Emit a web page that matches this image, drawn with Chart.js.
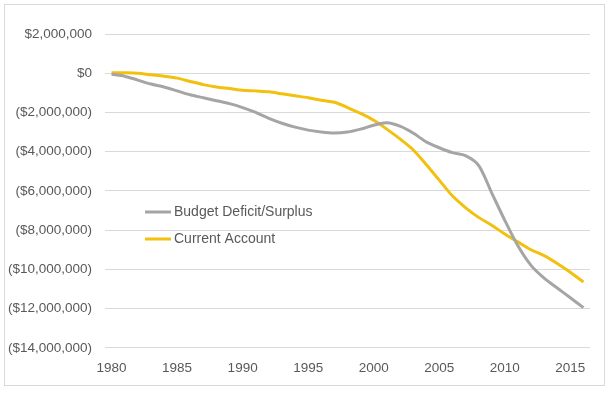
<!DOCTYPE html>
<html>
<head>
<meta charset="utf-8">
<script src="https://cdn.jsdelivr.net/npm/chart.js@4/dist/chart.umd.min.js"></script>
<style>
    body { margin: 0; background: #fff; }
    #frame { position: absolute; left: 4px; top: 4px; width: 599px; height: 380px; border: 1px solid #d9d9d9; }
    #myChart { position: absolute; left: 0; top: 0; }
</style>
</head>
<body>
<div id="frame"></div>
<canvas id="myChart" width="612" height="394"></canvas>
<script>
const years = [];
for (let y = 1980; y <= 2016; y++) years.push(String(y));

const budget = [
    -50000, -150000, -350000, -550000, -700000, -900000, -1100000, -1250000, -1400000, -1550000,
    -1750000, -2000000, -2300000, -2550000, -2750000, -2900000, -3000000, -3050000, -3000000, -2850000,
    -2650000, -2530000, -2700000, -3050000, -3500000, -3800000, -4050000, -4200000, -4700000, -6100000,
    -7500000, -8800000, -9800000, -10450000, -10950000, -11450000, -11950000
];

const currentAccount = [
    20000, 20000, 0, -80000, -150000, -250000, -420000, -580000, -700000, -780000,
    -870000, -900000, -950000, -1050000, -1150000, -1250000, -1380000, -1480000, -1750000, -2050000,
    -2400000, -2850000, -3350000, -3900000, -4650000, -5450000, -6250000, -6850000, -7350000, -7750000,
    -8200000, -8600000, -9000000, -9300000, -9700000, -10150000, -10650000
];

const yMin = -14000000;
const yMax = 2000000;
const yStep = 2000000;

const textColor = '#595959';

function money(v) {
    const s = '$' + Math.abs(v).toLocaleString('en-US');
    return v < 0 ? '(' + s + ')' : s;
}

// legend drawn inside the plot, like the excel one
const insideLegend = {
    id: 'insideLegend',
    afterDraw(chart) {
        const c = chart.ctx;
        const x = 145;
        let y = 212;
        c.save();
        c.font = '14px "Liberation Sans", Arial, sans-serif';
        c.textBaseline = 'middle';
        chart.data.datasets.forEach(ds => {
            c.strokeStyle = ds.borderColor;
            c.lineWidth = 3;
            c.beginPath();
            c.moveTo(x, y);
            c.lineTo(x + 26, y);
            c.stroke();
            c.fillStyle = textColor;
            c.fillText(ds.label, x + 29, y);
            y += 27;
        });
        c.restore();
    }
};

const ctx = document.getElementById('myChart').getContext('2d');
const myChart = new Chart(ctx, {
    type: 'line',
    data: {
        labels: years,
        datasets: [{
            label: 'Budget Deficit/Surplus',
            data: budget,
            borderColor: '#a5a5a5',
            borderWidth: 3,
            pointRadius: 0,
            tension: 0.3
        }, {
            label: 'Current Account',
            data: currentAccount,
            borderColor: '#f2c00f',
            borderWidth: 3,
            pointRadius: 0,
            tension: 0.3
        }]
    },
    options: {
        responsive: false,
        animation: false,
        layout: {
            padding: { left: 0, right: 22, top: 34, bottom: 6 }
        },
        plugins: {
            legend: { display: false },
            tooltip: { enabled: false }
        },
        scales: {
            x: {
                offset: true,
                grid: { display: false, drawTicks: false },
                border: { display: false },
                ticks: {
                    autoSkip: false,
                    maxRotation: 0,
                    padding: 12,
                    color: textColor,
                    font: { family: '"Liberation Sans", Arial, sans-serif', size: 13.5 },
                    callback: function (val, i) {
                        const lab = this.getLabelForValue(val);
                        return Number(lab) % 5 === 0 ? lab : '';
                    }
                }
            },
            y: {
                min: yMin,
                max: yMax,
                afterFit(scale) { scale.width = 105; },
                grid: { color: '#d9d9d9', lineWidth: 1, drawTicks: false },
                border: { display: false },
                ticks: {
                    stepSize: yStep,
                    padding: 13,
                    color: textColor,
                    font: { family: '"Liberation Sans", Arial, sans-serif', size: 13.5 },
                    callback: v => money(v)
                }
            }
        }
    },
    plugins: [insideLegend]
});
</script>
</body>
</html>
